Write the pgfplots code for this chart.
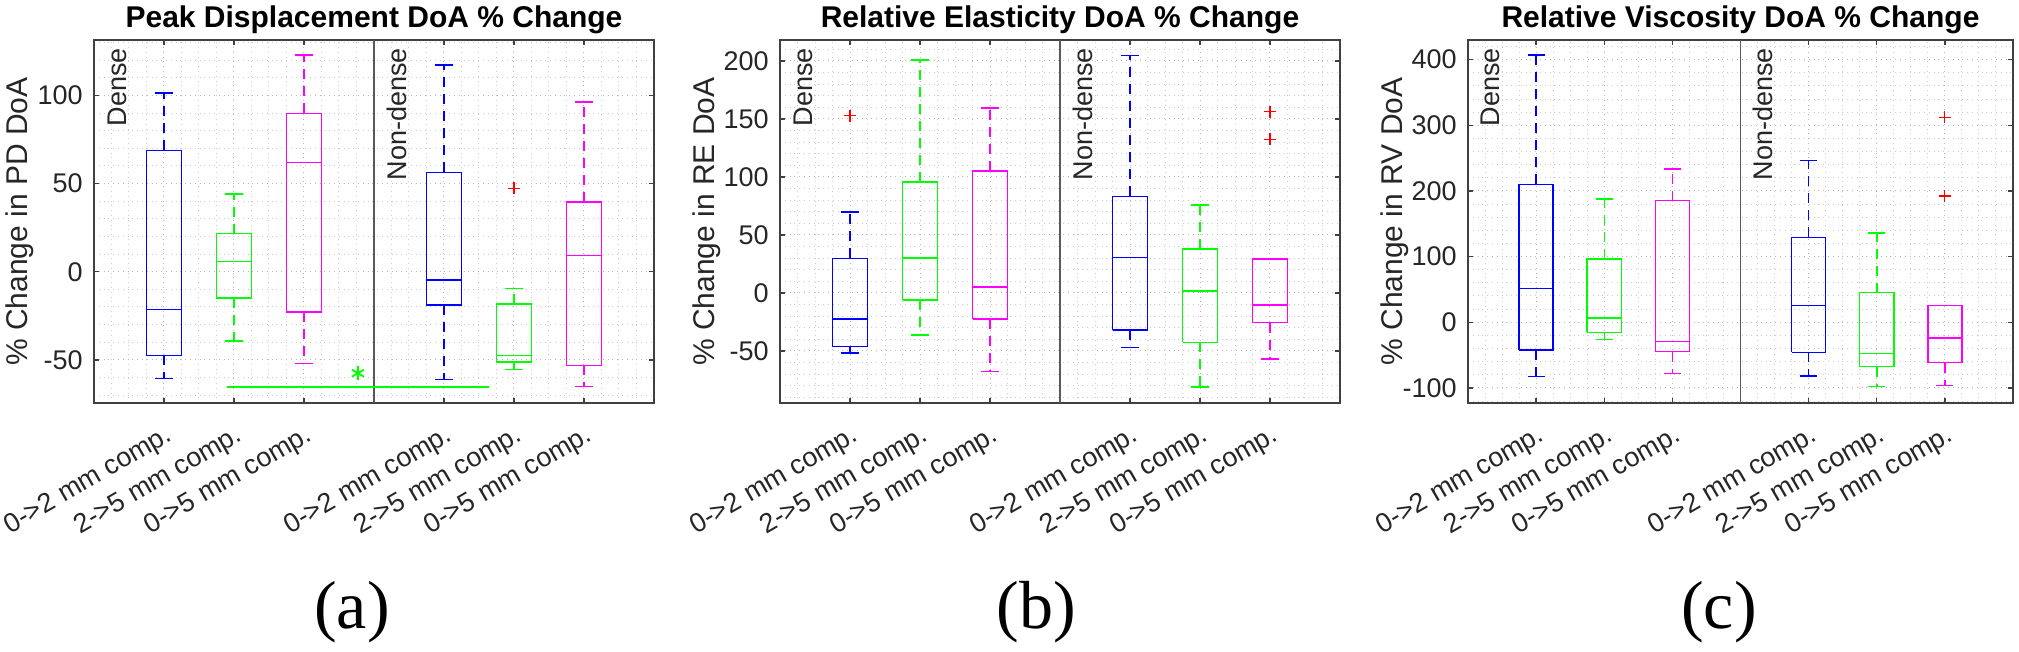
\documentclass[border=0pt]{standalone}
\usepackage{fontspec}
\setmainfont{Liberation Sans}
\newfontfamily\panelfont{Liberation Serif}
\usepackage{pgfplots}
\pgfplotsset{compat=1.18}

\definecolor{mblue}{rgb}{0,0,1}
\definecolor{mgreen}{rgb}{0,1,0}
\definecolor{mmag}{rgb}{1,0,1}
\definecolor{mred}{rgb}{1,0,0}

\newcommand{\ticksize}{\fontsize{13.5}{16}\selectfont}
\newcommand{\labsize}{\fontsize{15}{18}\selectfont}

\pgfplotsset{
  % MATLAB-like boxed axes with dotted grid
  matlabbox/.style={
    scale only axis,
    width=280pt, height=181.5pt,
    anchor=south west,
    xmin=0, xmax=8,
    xtick={1,2,3,5,6,7},
    xticklabels={0->2 mm comp.,2->5 mm comp.,0->5 mm comp.,0->2 mm comp.,2->5 mm comp.,0->5 mm comp.},
    minor xtick={0.25,0.5,...,7.75},
    tick align=inside,
    tick pos=both,
    major tick length=2.5pt,
    minor tick length=0pt,
    grid=both,
    major grid style={dotted, black!28, line width=0.5pt},
    minor grid style={dotted, black!20, line width=0.5pt},
    axis line style={black!75, line width=0.7pt},
    every tick/.style={black!75, line width=0.7pt},
    tick label style={font=\ticksize, text=black!85},
    xticklabel style={yshift=-10pt, rotate=30, anchor=north east, inner sep=0pt},
    yticklabel style={anchor=east, inner sep=0pt, xshift=-5.5pt},
    /pgf/number format/assume math mode=true,
    clip=false,
  },
  bxline/.style={line width=0.75pt, line join=miter},
  whisk/.style={line width=0.75pt, dash pattern=on 5pt off 3.5pt},
  outl/.style={only marks, mark=+, mred, mark size=3pt, line width=0.6pt},
}

% one box: colour, position, lower whisker, lower quartile, median, upper quartile, upper whisker
\newcommand{\bx}[7]{%
  \pgfmathsetmacro\bxl{#2-0.25}\pgfmathsetmacro\bxr{#2+0.25}%
  \pgfmathsetmacro\cpl{#2-0.125}\pgfmathsetmacro\cpr{#2+0.125}%
  \addplot[#1, whisk] coordinates {(#2,#6) (#2,#7)};
  \addplot[#1, whisk] coordinates {(#2,#4) (#2,#3)};
  \addplot[#1, bxline] coordinates {(\cpl,#7) (\cpr,#7)};
  \addplot[#1, bxline] coordinates {(\cpl,#3) (\cpr,#3)};
  \addplot[#1, bxline] coordinates {(\bxl,#4) (\bxr,#4) (\bxr,#6) (\bxl,#6) (\bxl,#4)};
  \addplot[#1, bxline] coordinates {(\bxl,#5) (\bxr,#5)};
}
% group names, axis title and y label
\newcommand{\decor}[3]{%
  \node[rotate=90, anchor=east, inner sep=0pt, font=\ticksize, text=black!85] at ([yshift=-4pt]axis cs:0.33,#1) {Dense};
  \node[rotate=90, anchor=east, inner sep=0pt, font=\ticksize, text=black!85] at ([yshift=-4pt]axis cs:4.33,#1) {Non-dense};
  \node[anchor=base, inner sep=0pt, font=\labsize\bfseries] at ([yshift=6pt]rel axis cs:0.5,1) {#2};
  \node[rotate=90, anchor=base, inner sep=0pt, font=\labsize, text=black!85] at ([xshift=-33pt]rel axis cs:0,0.5) {#3};
}

\begin{document}
\begin{tikzpicture}
\useasboundingbox (0,0) rectangle (1009.5pt,326pt);

% ---------- Peak displacement ----------
\begin{axis}[matlabbox, at={(47pt,124.5pt)},
  ymin=-74.5, ymax=131.5,
  ytick={-50,0,50,100},
  minor ytick={-70,-60,...,130}]
  \addplot[black!65, line width=0.6pt] coordinates {(4,-74.5) (4,131.5)};
  \bx{mblue}{1}{-60.6}{-47.5}{-21.4}{68.9}{101.5}
  \bx{mgreen}{2}{-39.4}{-14.8}{5.9}{21.6}{44.1}
  \bx{mmag}{3}{-52.1}{-22.9}{61.9}{89.8}{123.1}
  \bx{mblue}{5}{-61.2}{-18.9}{-4.7}{56.4}{117.4}
  \bx{mgreen}{6}{-55.5}{-51.1}{-47.5}{-18.4}{-9.5}
  \bx{mmag}{7}{-65.2}{-53.2}{9.3}{39.6}{96.2}
  \addplot[outl] coordinates {(6,47.3)};
  % significance bar between the two 2->5 mm groups
  \addplot[mgreen, line width=1pt] coordinates {(1.9,-65.3) (5.65,-65.3)};
  \addplot[only marks, mgreen, mark=asterisk, mark size=3.5pt, line width=0.9pt] coordinates {(3.77,-57.6)};
  \decor{131.5}{Peak Displacement DoA \% Change}{\% Change in PD DoA}
\end{axis}

% ---------- Relative elasticity ----------
\begin{axis}[matlabbox, at={(390pt,124.5pt)},
  ymin=-95, ymax=218,
  ytick={-50,0,50,100,150,200},
  minor ytick={-90,-80,...,210}]
  \addplot[black!65, line width=0.6pt] coordinates {(4,-95) (4,218)};
  \bx{mblue}{1}{-52.0}{-46.3}{-22.7}{29.6}{69.5}
  \bx{mgreen}{2}{-36.2}{-6.0}{29.9}{95.4}{200.9}
  \bx{mmag}{3}{-67.8}{-22.4}{4.9}{104.9}{159.5}
  \bx{mblue}{5}{-47.1}{-31.9}{30.5}{83.1}{204.6}
  \bx{mgreen}{6}{-81.3}{-42.8}{1.7}{37.9}{75.9}
  \bx{mmag}{7}{-57.2}{-25.6}{-10.3}{29.3}{29.3}
  \addplot[outl] coordinates {(1,152.6) (7,156.3) (7,132.5)};
  \decor{218}{Relative Elasticity DoA \% Change}{\% Change in RE DoA}
\end{axis}

% ---------- Relative viscosity ----------
\begin{axis}[matlabbox, at={(734pt,124.5pt)}, width=272.5pt,
  ymin=-123, ymax=430,
  ytick={-100,0,100,200,300,400},
  minor ytick={-120,-100,...,420}]
  \addplot[black!65, line width=0.6pt] coordinates {(4,-123) (4,430)};
  \bx{mblue}{1}{-82.4}{-42.2}{51.4}{210}{407.4}
  \bx{mgreen}{2}{-25.9}{-15.3}{6.1}{96.1}{187.7}
  \bx{mmag}{3}{-77.8}{-44.8}{-29.0}{185.1}{233.4}
  \bx{mblue}{5}{-81.9}{-45.8}{25.4}{129.2}{246.7}
  \bx{mgreen}{6}{-97.7}{-67.6}{-47.8}{45.3}{135.8}
  \bx{mmag}{7}{-96.1}{-61.5}{-23.9}{25.9}{25.9}
  \addplot[outl] coordinates {(7,312.3) (7,192.3)};
  \decor{430}{Relative Viscosity DoA \% Change}{\% Change in RV DoA}
\end{axis}

\node[font=\panelfont\fontsize{34}{40}\selectfont] at (176pt,20pt) {(a)};
\node[font=\panelfont\fontsize{34}{40}\selectfont] at (518pt,20pt) {(b)};
\node[font=\panelfont\fontsize{34}{40}\selectfont] at (859.5pt,20pt) {(c)};
\end{tikzpicture}
\end{document}
